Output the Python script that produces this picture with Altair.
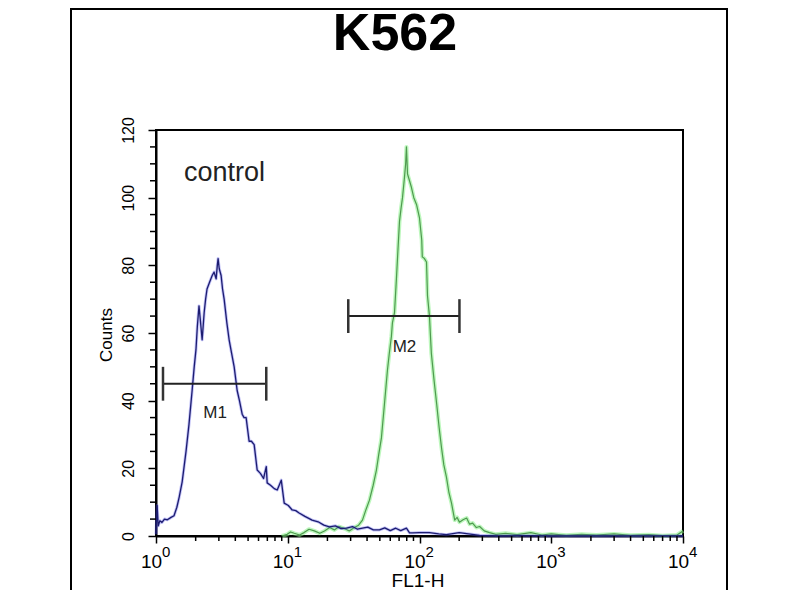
import altair as alt
import pandas as pd

# ---------------- data ----------------
blue_x = [1.00, 1.02, 1.04, 1.07, 1.11, 1.16, 1.22, 1.30, 1.37, 1.44, 1.50, 1.58, 1.69, 1.78,
          1.88, 1.95, 2.01, 2.06, 2.12, 2.18, 2.24, 2.32, 2.38, 2.44, 2.55, 2.67, 2.76, 2.86,
          2.92, 2.96, 3.02, 3.12, 3.20, 3.29, 3.45, 3.59, 3.75, 3.92, 4.13, 4.30, 4.51, 4.66,
          4.83, 5.09, 5.30, 5.56, 5.86, 6.20, 6.55, 6.87, 6.98, 7.40, 7.90, 8.32, 8.93, 9.40,
          10.1, 10.8, 11.5, 12.2, 13.5, 15.3, 17.0, 18.8, 20.7, 23.0, 25.4, 27.9, 31.0, 33.8,
          36.9, 40.5, 44.6, 49.7, 54.5, 60.0, 66.0, 72.0, 79.6, 84.0, 88.5, 100, 119, 140,
          160, 200, 286, 400, 600, 1000, 2000, 4000, 10000]
blue_y = [0.5, 9, 3, 4.5, 4, 5, 4.8, 5.5, 6, 8.5, 11.5, 16, 25, 33,
          43, 50, 55, 62, 68, 63, 58, 66, 70, 73, 75, 77, 78, 76,
          80, 82, 79, 77, 73, 70, 63, 58, 54, 50, 43, 40, 36, 35,
          35, 28, 28, 27, 19.5, 18.5, 17, 20.5, 15.7, 15, 14, 13.6, 16.5, 9.7,
          9, 7.7, 7.5, 6.8, 5.8, 4.7, 4.2, 3.2, 2.7, 3.0, 2.2, 2.3, 2.8, 2.0,
          2.3, 2.6, 1.8, 1.8, 2.4, 1.6, 2.3, 1.6, 2.3, 0.9, 0.9, 1.0, 1.0, 0.6,
          0.4, 1.0, 0.2, 0.0, 0.1, 0.0, 0.0, 0.0, 0.0]

green_x = [9.0, 9.9, 10.5, 11.2, 12.3, 13.3, 14.5, 15.9, 17.5, 19.0, 20.8, 22.6, 24.5, 26.9,
           29.3, 32.0, 34.5, 36.9, 39.0, 41.7, 44.5, 47.1, 49.0, 51.4, 54.2, 57.1, 59.0, 61.2,
           62.3, 64.6, 66.8, 68.5, 70.5, 72.5, 74.3, 76.9, 78.5, 79.6, 81.1, 84.0, 86.9, 90.5,
           94.9, 100, 104, 105, 109, 113, 115, 119, 123, 129, 135, 141, 147, 153, 160, 167,
           175, 185, 193, 201, 214, 228, 240, 253, 270, 286, 310, 340, 380, 450, 550, 700,
           850, 1000, 1300, 1700, 2200, 3000, 4000, 5500, 7000, 9000, 10000]
green_y = [0, 0.5, 1.2, 0.8, 0.3, 1.0, 2.0, 1.5, 0.8, 1.5, 2.5, 1.8, 2.8, 2.2,
           1.5, 2.5, 3.2, 4.7, 7.5, 10.6, 15, 19.5, 24, 29, 39, 49, 54, 59,
           63, 66, 76, 84, 93, 97, 100, 106, 110, 115, 107, 105, 103, 100,
           98, 94, 87.5, 82.5, 82, 81, 71, 65, 54, 46, 39, 32, 26, 21, 17.5, 13,
           9.7, 4.7, 5.5, 4.1, 4.8, 5.3, 3.5, 3.8, 2.5, 2.8, 1.5, 1.0, 0.5, 0.8, 0.4, 1.0,
           0.3, 0.6, 0.2, 0.5, 0.3, 0.6, 0.2, 0.4, 0.1, 0.3, 1.5]

marker_names = ["M1", "M2"]
marker_start = [1.13, 28.8]
marker_end = [6.87, 201]
marker_level = [45, 65]
marker_label_x = [2.81, 76.9]
marker_label_y = [36.5, 56]

y_major = [0, 20, 40, 60, 80, 100, 120]
y_minor = [5, 10, 15, 25, 30, 35, 45, 50, 55, 65, 70, 75, 85, 90, 95, 105, 110, 115]
x_major = [1, 10, 100, 1000, 10000]
x_exponents = ["0", "1", "2", "3", "4"]
x_minor = [2, 3, 4, 5, 6, 7, 8, 9, 20, 30, 40, 50, 60, 70, 80, 90,
           200, 300, 400, 500, 600, 700, 800, 900, 2000, 3000, 4000, 5000, 6000, 7000, 8000, 9000]

chart_title = "K562"
sample_label = "control"
x_title = "FL1-H"
y_title = "Counts"

# ---------------- chart ----------------
W, H = 527, 406
FONT = "Liberation Sans"
xs = alt.Scale(type="log", domain=[1, 10000])
ys = alt.Scale(domain=[0, 120])

x_axis = alt.Axis(values=x_major, title=None, grid=False, tickSize=7, tickWidth=1.5,
                  tickColor="black", domainColor="black", domainWidth=2,
                  labelFontSize=19, labelFont=FONT, labelColor="black", labelPadding=24,
                  labelBaseline="alphabetic", labelAlign="center", labelOffset=-5,
                  labelFlush=False, labelOverlap=False, labelExpr="'10'")
y_axis = alt.Axis(values=y_major, title=None, grid=False, tickSize=8, tickWidth=1.5,
                  tickColor="black", domainColor="black", domainWidth=2,
                  labelFontSize=16, labelFont=FONT, labelColor="black", labelAngle=270,
                  labelAlign="center", labelBaseline="bottom", labelPadding=12,
                  labelFlush=False, labelOverlap=False)


def X(field):
    return alt.X(field, type="quantitative", scale=xs, axis=x_axis)


def Y(field):
    return alt.Y(field, type="quantitative", scale=ys, axis=y_axis)


blue_df = pd.DataFrame({"fl": blue_x, "count": blue_y})
green_df = pd.DataFrame({"fl": green_x, "count": green_y})


def line(df, color, width, opacity):
    return alt.Chart(df).mark_line(color=color, strokeWidth=width, opacity=opacity,
                                   strokeJoin="round").encode(x=X("fl"), y=Y("count"))


green_glow = line(green_df, "#86f086", 4, 0.55)
green_core = line(green_df, "#4f9a4f", 1.2, 1)
blue_glow = line(blue_df, "#5050e8", 3, 0.35)
blue_core = line(blue_df, "#1c1c70", 1.3, 1)

mk_df = pd.DataFrame({"name": marker_names, "start": marker_start, "end": marker_end,
                      "level": marker_level, "lx": marker_label_x, "ly": marker_label_y,
                      "lo": [v - 5 for v in marker_level], "hi": [v + 5 for v in marker_level]})
mk_line = alt.Chart(mk_df).mark_rule(color="#222222", strokeWidth=2).encode(
    x=X("start"), x2="end:Q", y=Y("level"))
mk_cap_l = alt.Chart(mk_df).mark_rule(color="#333333", strokeWidth=2.5).encode(
    x=X("start"), y=Y("lo"), y2="hi:Q")
mk_cap_r = alt.Chart(mk_df).mark_rule(color="#333333", strokeWidth=2.5).encode(
    x=X("end"), y=Y("lo"), y2="hi:Q")
mk_text = alt.Chart(mk_df).mark_text(font=FONT, fontSize=17, color="#222222").encode(
    x=X("lx"), y=Y("ly"), text="name:N")

ymin_df = pd.DataFrame({"v": y_minor})
y_minor_ticks = alt.Chart(ymin_df).mark_rule(color="black", strokeWidth=1.5).encode(
    y=Y("v"), x=alt.value(-6), x2=alt.value(0))
xmin_df = pd.DataFrame({"v": x_minor})
x_minor_ticks = alt.Chart(xmin_df).mark_rule(color="black", strokeWidth=1.5).encode(
    x=X("v"), y=alt.value(H), y2=alt.value(H + 5))

exp_df = pd.DataFrame({"v": x_major, "e": x_exponents})
x_sup = alt.Chart(exp_df).mark_text(font=FONT, fontSize=15, color="black", align="left",
                                    baseline="alphabetic", dx=6).encode(
    x=X("v"), y=alt.value(H + 21), text="e:N")

one = pd.DataFrame({"t": [chart_title], "s": [sample_label], "xt": [x_title], "yt": [y_title]})
title_txt = alt.Chart(one).mark_text(font=FONT, fontSize=52, fontWeight="bold", color="black",
                                     align="center", baseline="alphabetic").encode(
    x=alt.value(239), y=alt.value(-80), text="t:N")
ctrl_txt = alt.Chart(one).mark_text(font=FONT, fontSize=27, color="#222222",
                                    align="left", baseline="alphabetic").encode(
    x=alt.value(28), y=alt.value(51), text="s:N")
xt_txt = alt.Chart(one).mark_text(font=FONT, fontSize=19, color="black",
                                  align="center", baseline="alphabetic").encode(
    x=alt.value(262), y=alt.value(457), text="xt:N")
yt_txt = alt.Chart(one).mark_text(font=FONT, fontSize=17, color="black", angle=270,
                                  align="center", baseline="middle").encode(
    x=alt.value(-49), y=alt.value(205), text="yt:N")
frame = alt.Chart(one).mark_rect(fill=None, stroke="black", strokeWidth=2).encode(
    x=alt.value(-85), x2=alt.value(571), y=alt.value(-121), y2=alt.value(490))

chart = alt.layer(
    green_glow, green_core, blue_glow, blue_core,
    mk_line, mk_cap_l, mk_cap_r, mk_text,
    y_minor_ticks, x_minor_ticks, x_sup, title_txt, ctrl_txt, xt_txt, yt_txt, frame,
).properties(
    width=W, height=H,
    autosize=alt.AutoSizeParams(type="none"),
    padding={"left": 148, "top": 122, "right": 105, "bottom": 54},
).configure(
    background="white",
    view=alt.ViewConfig(stroke="black", strokeWidth=2),
)

chart.save("out.html", embed_options={"renderer": "svg", "actions": False})
